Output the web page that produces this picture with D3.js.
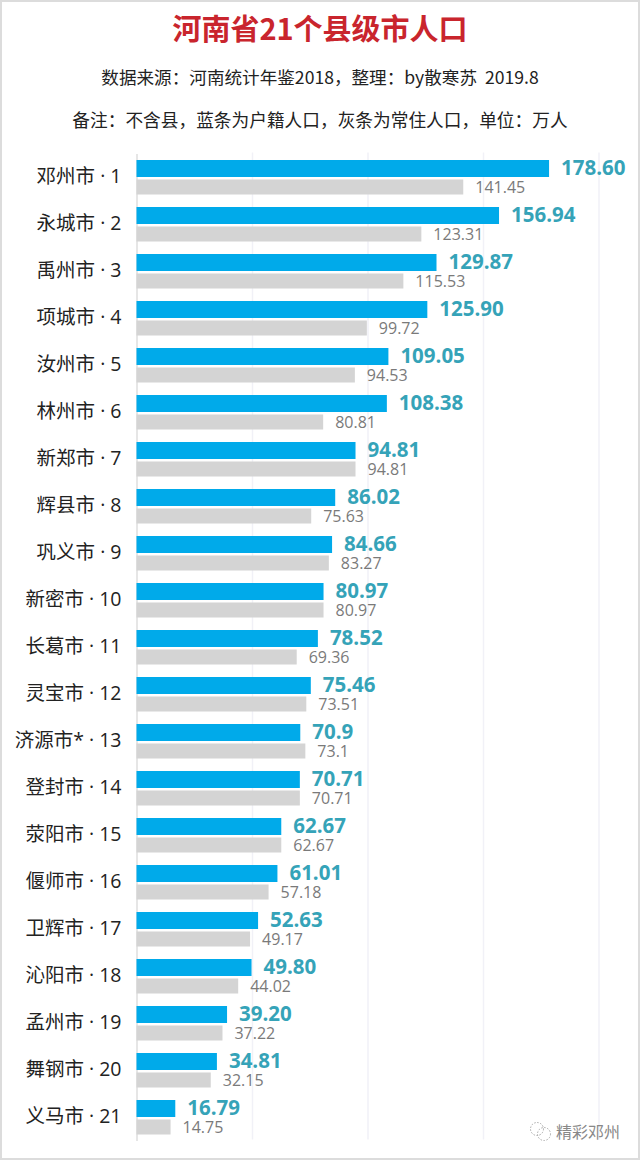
<!DOCTYPE html>
<html>
<head>
<meta charset="utf-8">
<script src="https://cdn.jsdelivr.net/npm/d3@7"></script>
<style>
    html, body { margin: 0; padding: 0; background: #fff; }
    svg { display: block; }
    text { font-family: "Open Sans", "Noto Sans CJK SC", sans-serif; }
    .cjk { font-family: "Noto Sans CJK SC", sans-serif; }
</style>
</head>
<body>
<svg id="chart" width="640" height="1160"></svg>
<script>
// cities in rank order
let cities = ["邓州市", "永城市", "禹州市", "项城市", "汝州市", "林州市", "新郑市", "辉县市", "巩义市", "新密市", "长葛市",
    "灵宝市", "济源市*", "登封市", "荥阳市", "偃师市", "卫辉市", "沁阳市", "孟州市", "舞钢市", "义马市"];
// 户籍人口, kept as strings because the labels keep their own decimals
let huji = ["178.60", "156.94", "129.87", "125.90", "109.05", "108.38", "94.81", "86.02", "84.66", "80.97", "78.52",
    "75.46", "70.9", "70.71", "62.67", "61.01", "52.63", "49.80", "39.20", "34.81", "16.79"];
// 常住人口
let changzhu = ["141.45", "123.31", "115.53", "99.72", "94.53", "80.81", "94.81", "75.63", "83.27", "80.97", "69.36",
    "73.51", "73.1", "70.71", "62.67", "57.18", "49.17", "44.02", "37.22", "32.15", "14.75"];
let gridTicks = [50, 100, 150, 200];

let title = "河南省21个县级市人口";
let subtitle = "数据来源\uFF1A河南统计年鉴2018\uFF0C整理\uFF1Aby散寒苏  2019.8";
let note = "备注\uFF1A不含县\uFF0C蓝条为户籍人口\uFF0C灰条为常住人口\uFF0C单位\uFF1A万人";
let watermark = "精彩邓州";

let svg = d3.select("#chart");
let width = +svg.attr("width"), height = +svg.attr("height");

let x = d3.scaleLinear().domain([0, 200]).range([136.5, 598.5]);
let y = d3.scaleBand().domain(cities).range([152.5, 1139.5]);

// frame of the screenshot
svg.append("rect").attr("x", 1).attr("y", 1).attr("width", width - 2).attr("height", height - 2)
    .attr("fill", "#fff").attr("stroke", "#dcdcdc").attr("stroke-width", 2);

// headers
svg.append("text").attr("class", "cjk").attr("x", 320).attr("y", 40).attr("text-anchor", "middle")
    .attr("font-size", 29).attr("font-weight", 700).attr("fill", "#c9252d").text(title);
svg.append("text").attr("class", "cjk").attr("x", 320).attr("y", 84).attr("text-anchor", "middle")
    .attr("font-size", 17.6).attr("fill", "#222").style("white-space", "pre").text(subtitle);
svg.append("text").attr("class", "cjk").attr("x", 320).attr("y", 127).attr("text-anchor", "middle")
    .attr("font-size", 17.7).attr("fill", "#222").text(note);

// grid lines, no tick labels in the original
let grid = svg.append("g").attr("transform", "translate(0,1139.5)")
    .call(d3.axisBottom(x).tickValues(gridTicks).tickSize(-987).tickFormat(""));
grid.select(".domain").remove();
grid.selectAll("line").attr("stroke", "#f1f1f7").attr("stroke-width", 1.5);

// category axis
let yAxis = svg.append("g").attr("transform", "translate(136.5,1)")
    .call(d3.axisLeft(y).tickSize(0).tickPadding(15).tickFormat((d, i) => d + " · " + (i + 1)));
yAxis.select(".domain").attr("stroke", "#dedede").attr("stroke-width", 1.5);
yAxis.selectAll("text").attr("font-size", 19.5).attr("fill", "#222")
    .style("font-family", '"Open Sans", "Noto Sans CJK SC", sans-serif');

let center = (i) => y(cities[i]) + y.bandwidth() / 2;

// blue bars
svg.append("g").selectAll("rect").data(huji).join("rect")
    .attr("x", x(0)).attr("y", (d, i) => center(i) - 16)
    .attr("width", (d) => x(+d) - x(0)).attr("height", 17)
    .attr("fill", "#00aaea");

// grey bars
svg.append("g").selectAll("rect").data(changzhu).join("rect")
    .attr("x", x(0)).attr("y", (d, i) => center(i) + 3.5)
    .attr("width", (d) => x(+d) - x(0)).attr("height", 15)
    .attr("fill", "#d4d4d4");

// value labels
svg.append("g").selectAll("text").data(huji).join("text")
    .attr("x", (d) => x(+d) + 12).attr("y", (d, i) => center(i) - 1)
    .attr("font-size", 20.5).attr("font-weight", 700).attr("fill", "#35a3b8").text((d) => d);
svg.append("g").selectAll("text").data(changzhu).join("text")
    .attr("x", (d) => x(+d) + 12).attr("y", (d, i) => center(i) + 17)
    .attr("font-size", 16).attr("fill", "#7a7a7a").text((d) => d);

// watermark
let mark = svg.append("g").attr("fill", "none").attr("stroke", "#aaa").attr("stroke-dasharray", "1.5 1.5");
mark.append("circle").attr("cx", 537).attr("cy", 1129).attr("r", 6.5);
mark.append("circle").attr("cx", 544).attr("cy", 1134).attr("r", 6.5);
svg.append("text").attr("class", "cjk").attr("x", 556).attr("y", 1138)
    .attr("font-size", 16).attr("fill", "#888").text(watermark);
</script>
</body>
</html>
